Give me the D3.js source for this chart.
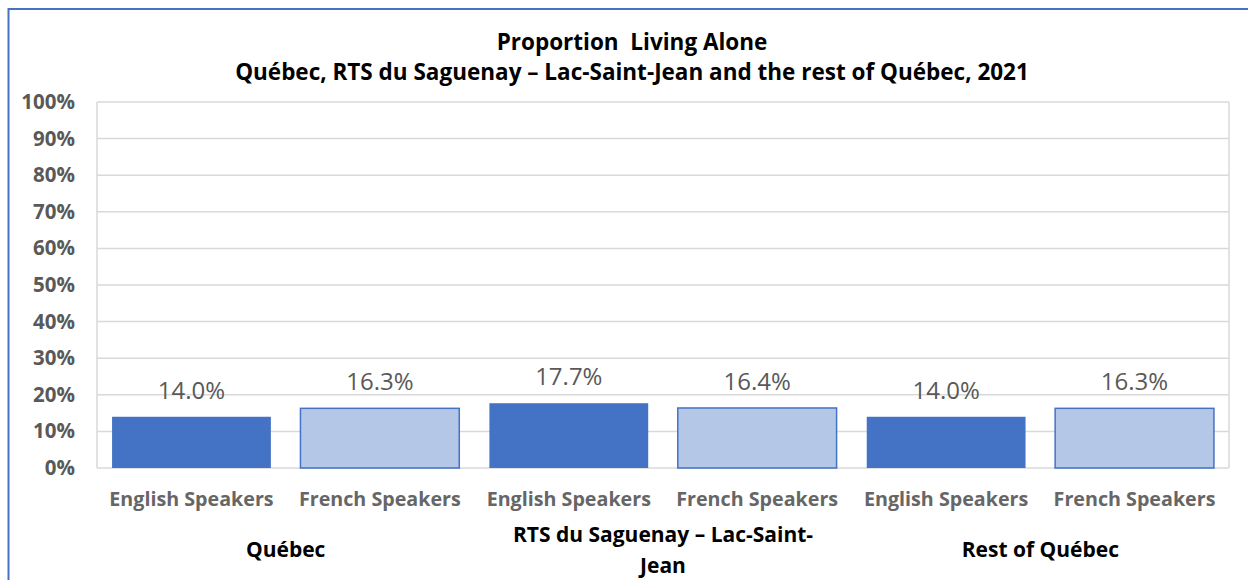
<!DOCTYPE html>
<html lang="en">
<head>
    <meta charset="UTF-8">
    <title>Proportion Living Alone</title>
    <script src="https://d3js.org/d3.v7.min.js"></script>
    <style>
        body { margin: 0; background: #fff; }
        svg { display: block; font-family: "Open Sans", sans-serif; }
    </style>
</head>
<body>
    <div id="chart-container"></div>

    <script>
        // Data
        const regions = ["Québec", "RTS du Saguenay – Lac-Saint-Jean", "Rest of Québec"];
        const regionLines = [["Québec"], ["RTS du Saguenay – Lac-Saint-", "Jean"], ["Rest of Québec"]];
        const speakers = ["English Speakers", "French Speakers"];
        const englishValues = [0.140, 0.177, 0.140];
        const frenchValues = [0.163, 0.164, 0.163];
        const yTicks = [0, 0.1, 0.2, 0.3, 0.4, 0.5, 0.6, 0.7, 0.8, 0.9, 1.0];

        const rows = [];
        regions.forEach((r, i) => {
            rows.push({ region: r, speaker: speakers[0], value: englishValues[i] });
            rows.push({ region: r, speaker: speakers[1], value: frenchValues[i] });
        });

        const width = 1248, height = 580;
        const plot = { left: 97, right: 1229, top: 102, bottom: 468 };

        const svg = d3.select("#chart-container")
            .append("svg")
            .attr("width", width)
            .attr("height", height);

        // outer frame
        svg.append("rect")
            .attr("x", 8.5)
            .attr("y", 9)
            .attr("width", 1300)
            .attr("height", 700)
            .attr("fill", "#fff")
            .attr("stroke", "#4472C4")
            .attr("stroke-width", 2);

        const x0 = d3.scaleBand()
            .domain(regions)
            .range([plot.left, plot.right]);

        const x1 = d3.scaleBand()
            .domain(speakers)
            .range([0, x0.bandwidth()])
            .paddingInner(0.157)
            .paddingOuter(0.08);

        const y = d3.scaleLinear()
            .domain([0, 1])
            .range([plot.bottom, plot.top]);

        // gridlines
        svg.append("g")
            .selectAll("line")
            .data(yTicks)
            .enter().append("line")
            .attr("x1", plot.left)
            .attr("x2", plot.right)
            .attr("y1", d => y(d))
            .attr("y2", d => y(d))
            .attr("stroke", "#D9D9D9")
            .attr("stroke-width", 1.5);

        // plot area border sides
        svg.append("line")
            .attr("x1", plot.left).attr("x2", plot.left)
            .attr("y1", plot.top).attr("y2", plot.bottom)
            .attr("stroke", "#D9D9D9").attr("stroke-width", 1.5);
        svg.append("line")
            .attr("x1", plot.right).attr("x2", plot.right)
            .attr("y1", plot.top).attr("y2", plot.bottom)
            .attr("stroke", "#D9D9D9").attr("stroke-width", 1.5);

        // y axis labels
        const yAxis = d3.axisLeft(y)
            .tickValues(yTicks)
            .tickFormat(d3.format(".0%"))
            .tickSize(0)
            .tickPadding(22);

        svg.append("g")
            .attr("transform", `translate(${plot.left},0)`)
            .call(yAxis)
            .call(g => g.select(".domain").remove())
            .call(g => g.selectAll("text")
                .attr("fill", "#595959")
                .style("font-family", "'Open Sans', sans-serif")
                .style("font-size", "20.5px")
                .style("font-weight", "bold"));

        // bars
        svg.append("g")
            .selectAll("rect")
            .data(rows)
            .enter().append("rect")
            .attr("x", d => x0(d.region) + x1(d.speaker))
            .attr("y", d => y(d.value))
            .attr("width", x1.bandwidth())
            .attr("height", d => plot.bottom - y(d.value))
            .attr("fill", d => d.speaker === speakers[0] ? "#4472C4" : "#B4C7E7")
            .attr("stroke", d => d.speaker === speakers[0] ? "none" : "#4472C4")
            .attr("stroke-width", 1.5);

        // data labels
        svg.append("g")
            .selectAll("text")
            .data(rows)
            .enter().append("text")
            .attr("x", d => x0(d.region) + x1(d.speaker) + x1.bandwidth() / 2)
            .attr("y", d => y(d.value) - 18)
            .attr("text-anchor", "middle")
            .attr("fill", "#595959")
            .style("font-size", "24px")
            .text(d => d3.format(".1%")(d.value));

        // category labels
        svg.append("g")
            .selectAll("text")
            .data(rows)
            .enter().append("text")
            .attr("x", d => x0(d.region) + x1(d.speaker) + x1.bandwidth() / 2)
            .attr("y", 506)
            .attr("text-anchor", "middle")
            .attr("fill", "#666666")
            .style("font-size", "19.7px")
            .style("font-weight", "bold")
            .text(d => d.speaker);

        // region labels
        const regionLabels = svg.append("g")
            .selectAll("text")
            .data(regions)
            .enter().append("text")
            .attr("x", d => x0(d) + x0.bandwidth() / 2)
            .attr("y", (d, i) => regionLines[i].length > 1 ? 542 : 557)
            .attr("text-anchor", "middle")
            .attr("fill", "#000")
            .style("font-size", "21px")
            .style("font-weight", "bold");

        regionLabels.each(function(d, i) {
            const t = d3.select(this);
            regionLines[i].forEach((line, j) => {
                t.append("tspan")
                    .attr("x", x0(d) + x0.bandwidth() / 2)
                    .attr("dy", j === 0 ? 0 : 31)
                    .text(line);
            });
        });

        // title
        const title = svg.append("text")
            .attr("x", 632)
            .attr("text-anchor", "middle")
            .attr("fill", "#000")
            .style("font-size", "22.5px")
            .style("font-weight", "bold")
            .style("white-space", "pre");
        title.append("tspan").attr("x", 632).attr("y", 50).text("Proportion  Living Alone");
        title.append("tspan").attr("x", 632).attr("y", 80).text("Québec, RTS du Saguenay – Lac-Saint-Jean and the rest of Québec, 2021");
    </script>
</body>
</html>
